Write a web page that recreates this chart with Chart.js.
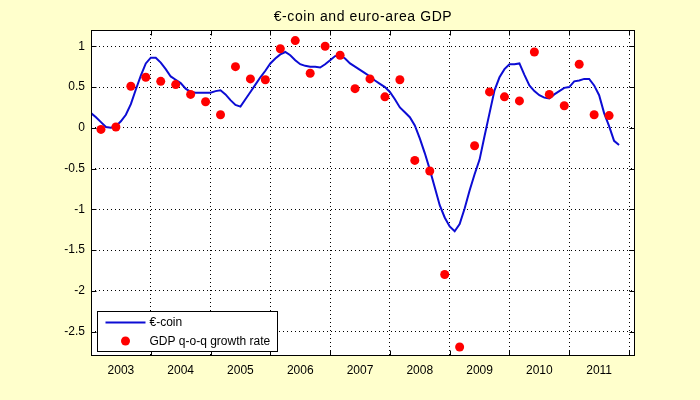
<!DOCTYPE html>
<html>
<head>
<meta charset="utf-8">
<script src="https://cdn.jsdelivr.net/npm/chart.js@4"></script>
<style>
  body { margin: 0; background: #ffffcc; }
  canvas { display: block; }
</style>
</head>
<body>
<canvas id="coinChart" width="700" height="400"></canvas>
<script>
// Values
const yearLabels = [2003, 2004, 2005, 2006, 2007, 2008, 2009, 2010, 2011];
const yTickValues = [1, 0.5, 0, -0.5, -1, -1.5, -2, -2.5];

// €-coin, monthly, Jan 2003 .. Nov 2011
const euroCoin = [
    0.18, 0.13, 0.07, 0.01, 0.00, 0.02, 0.08, 0.16, 0.29, 0.47, 0.64, 0.79,
    0.86, 0.86, 0.80, 0.72, 0.63, 0.59, 0.55, 0.48, 0.44, 0.43, 0.43, 0.43,
    0.43, 0.45, 0.46, 0.41, 0.34, 0.28, 0.26, 0.35, 0.44, 0.53, 0.62, 0.70,
    0.79, 0.85, 0.90, 0.93, 0.89, 0.83, 0.78, 0.76, 0.75, 0.75, 0.74, 0.78,
    0.83, 0.88, 0.89, 0.85, 0.79, 0.75, 0.71, 0.67, 0.63, 0.58, 0.54, 0.50,
    0.44, 0.35, 0.25, 0.19, 0.13, 0.03, -0.13, -0.31, -0.51, -0.73, -0.95, -1.10,
    -1.21, -1.27, -1.18, -0.99, -0.77, -0.57, -0.39, -0.10, 0.18, 0.46, 0.62, 0.72,
    0.78, 0.78, 0.79, 0.65, 0.52, 0.45, 0.40, 0.37, 0.36, 0.41, 0.45, 0.49,
    0.50, 0.57, 0.58, 0.60, 0.60, 0.52, 0.40, 0.18, 0.02, -0.16, -0.21,
];

// GDP q-o-q growth rate, quarterly, 2003Q1 .. 2011Q3
const gdpGrowth = [
    -0.02, 0.01, 0.51, 0.62,
    0.57, 0.53, 0.41, 0.32,
    0.16, 0.75, 0.60, 0.59,
    0.97, 1.07, 0.67, 1.00,
    0.89, 0.48, 0.60, 0.38,
    0.59, -0.40, -0.53, -1.80,
    -2.69, -0.22, 0.44, 0.38,
    0.33, 0.93, 0.41, 0.27,
    0.78, 0.16, 0.15,
];

const FONT = '"Liberation Sans", Arial, sans-serif';
const LINE_BLUE = '#0c0cd4';
const DOT_RED = '#ff0000';
const firstYear = yearLabels[0];

// monthly points sit on the month start, quarterly points on the last month of the quarter
const coinPoints = euroCoin.map((v, i) => ({ x: firstYear + i / 12, y: v }));
const gdpPoints = gdpGrowth.map((v, i) => ({ x: firstYear + (3 * i + 2) / 12, y: v }));

// whole years carry grid lines, mid-years carry the labels
const xTickValues = [];
yearLabels.forEach(y => xTickValues.push(y, y + 0.5));
xTickValues.push(yearLabels[yearLabels.length - 1] + 1);
const isYearStart = v => Math.abs(v - Math.round(v)) < 1e-6;

// white axes box, inward tick marks, title and the boxed legend
const matlabFrame = {
    id: 'matlabFrame',
    beforeDraw(chart) {
        const { ctx, chartArea: a } = chart;
        ctx.save();
        ctx.fillStyle = '#ffffff';
        ctx.fillRect(a.left, a.top, a.right - a.left, a.bottom - a.top);
        ctx.restore();
    },
    afterDraw(chart) {
        const { ctx, chartArea: a, scales } = chart;
        const L = Math.round(a.left) + 0.5, R = Math.round(a.right) - 0.5;
        const T = Math.round(a.top) + 0.5, B = Math.round(a.bottom) - 0.5;
        ctx.save();
        ctx.strokeStyle = '#000000';
        ctx.lineWidth = 1;
        ctx.strokeRect(L, T, R - L, B - T);

        ctx.beginPath();
        yTickValues.forEach(v => {
            const y = Math.round(scales.y.getPixelForValue(v)) + 0.5;
            ctx.moveTo(L, y); ctx.lineTo(L + 5, y);
            ctx.moveTo(R, y); ctx.lineTo(R - 5, y);
        });
        xTickValues.filter(isYearStart).forEach(v => {
            const x = Math.round(scales.x.getPixelForValue(v)) + 0.5;
            ctx.moveTo(x, B); ctx.lineTo(x, B - 5);
            ctx.moveTo(x, T); ctx.lineTo(x, T + 5);
        });
        ctx.stroke();

        // title, centred on the axes
        ctx.fillStyle = '#000000';
        ctx.font = '14px ' + FONT;
        if ('letterSpacing' in ctx) ctx.letterSpacing = '0.6px';
        ctx.textAlign = 'center';
        ctx.textBaseline = 'alphabetic';
        ctx.fillText('€-coin and euro-area GDP', (a.left + a.right) / 2, 21);
        if ('letterSpacing' in ctx) ctx.letterSpacing = '0px';

        // legend
        const lx = L + 6, ly = B - 44;
        ctx.fillStyle = '#ffffff';
        ctx.fillRect(lx, ly, 180, 40);
        ctx.strokeRect(lx, ly, 180, 40);
        const [lineSet, dotSet] = chart.data.datasets;
        ctx.strokeStyle = lineSet.borderColor;
        ctx.lineWidth = lineSet.borderWidth;
        ctx.beginPath();
        ctx.moveTo(lx + 8, ly + 11); ctx.lineTo(lx + 48, ly + 11);
        ctx.stroke();
        ctx.fillStyle = dotSet.backgroundColor;
        ctx.beginPath();
        ctx.arc(lx + 28, ly + 29.5, dotSet.pointRadius, 0, Math.PI * 2);
        ctx.fill();
        ctx.fillStyle = '#000000';
        ctx.font = '12px ' + FONT;
        ctx.textAlign = 'left';
        ctx.textBaseline = 'middle';
        ctx.fillText(lineSet.label, lx + 52, ly + 11);
        ctx.fillText(dotSet.label, lx + 52, ly + 30);
        ctx.restore();
    },
};

new Chart(document.getElementById('coinChart').getContext('2d'), {
    type: 'line',
    data: {
        datasets: [
            {
                label: '€-coin',
                data: coinPoints,
                borderColor: LINE_BLUE,
                borderWidth: 2,
                pointRadius: 0,
                tension: 0,
                fill: false,
                order: 2,
            },
            {
                label: 'GDP q-o-q growth rate',
                data: gdpPoints,
                showLine: false,
                backgroundColor: DOT_RED,
                borderColor: DOT_RED,
                borderWidth: 0,
                pointRadius: 4.5,
                order: 1,
            },
        ],
    },
    options: {
        responsive: false,
        animation: false,
        layout: { padding: { left: 0, right: 65, top: 30, bottom: 0 } },
        scales: {
            x: {
                type: 'linear',
                min: 2003,
                max: 2012.1,
                afterBuildTicks: axis => { axis.ticks = xTickValues.map(v => ({ value: v })); },
                afterFit: axis => { axis.height = 44; },
                grid: {
                    color: c => (c.tick && isYearStart(c.tick.value) ? '#000000' : 'rgba(0,0,0,0)'),
                    lineWidth: 1,
                    drawTicks: false,
                },
                border: { display: false, dash: [1, 3] },
                ticks: {
                    autoSkip: false,
                    maxRotation: 0,
                    padding: 7,
                    color: '#000000',
                    font: { family: FONT, size: 12 },
                    callback: v => (isYearStart(v) ? '' : String(Math.floor(v))),
                },
            },
            y: {
                min: -2.8,
                max: 1.2,
                afterBuildTicks: axis => { axis.ticks = yTickValues.map(v => ({ value: v })); },
                afterFit: axis => { axis.width = 91; },
                grid: { color: '#000000', lineWidth: 1, drawTicks: false },
                border: { display: false, dash: [1, 3] },
                ticks: {
                    padding: 6,
                    color: '#000000',
                    font: { family: FONT, size: 12 },
                    callback: v => String(v),
                },
            },
        },
        plugins: {
            legend: { display: false },
            title: { display: false },
            tooltip: { enabled: false },
        },
    },
    plugins: [matlabFrame],
});
</script>
</body>
</html>
